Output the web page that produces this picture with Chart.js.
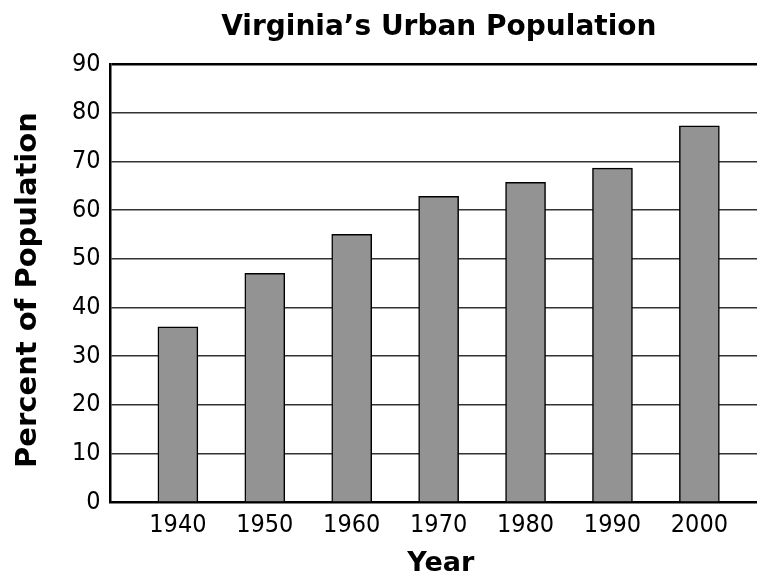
<!DOCTYPE html>
<html>
<head>
<meta charset="utf-8">
<script src="https://cdn.jsdelivr.net/npm/chart.js@4/dist/chart.umd.min.js"></script>
<style>
  html, body { margin: 0; padding: 0; background: #fff; overflow: hidden; }
  #wrap { width: 757px; height: 582px; overflow: hidden; position: relative; }
  #box { width: 771px; height: 582px; position: absolute; left: 0; top: 0; }
</style>
</head>
<body>
<div id="wrap"><div id="box"><canvas id="c"></canvas></div></div>
<script>
const chartTitle = "Virginia’s Urban Population";
const xAxisTitle = "Year";
const yAxisTitle = "Percent of Population";
const years = [1940, 1950, 1960, 1970, 1980, 1990, 2000];
const urbanPercent = [36, 47, 55, 62.8, 65.7, 68.6, 77.3];
const yTicks = [0, 10, 20, 30, 40, 50, 60, 70, 80, 90];

const titlePlugin = {
  id: 'customTitles',
  afterDraw(chart) {
    const ctx = chart.ctx;
    const a = chart.chartArea;
    ctx.save();
    ctx.fillStyle = '#000';
    ctx.textAlign = 'center';
    ctx.textBaseline = 'alphabetic';
    ctx.font = 'bold 28px "DejaVu Sans"';
    ctx.fillText(chartTitle, (a.left + a.right) / 2 - 2, 35);
    ctx.font = 'bold 29px "DejaVu Sans"';
    ctx.translate(36, (a.top + a.bottom) / 2 + 7);
    ctx.rotate(-Math.PI / 2);
    ctx.fillText(yAxisTitle, 0, 0);
    ctx.restore();
  }
};

new Chart(document.getElementById('c'), {
  type: 'bar',
  data: {
    datasets: [{
      data: years.map((y, i) => ({ x: y, y: urbanPercent[i] })),
      backgroundColor: '#939393',
      borderColor: '#000',
      borderWidth: 1.5,
      borderSkipped: 'bottom',
      barThickness: 40
    }]
  },
  options: {
    responsive: true,
    maintainAspectRatio: false,
    animation: false,
    layout: { padding: { top: 64, right: 0, bottom: 1.5, left: 62 } },
    plugins: { legend: { display: false }, tooltip: { enabled: false }, title: { display: false } },
    scales: {
      x: {
        type: 'linear',
        offset: false,
        min: 1932.26,
        max: 2008.24,
        afterBuildTicks: s => { s.ticks = years.map(v => ({ value: v })); },
        ticks: {
          autoSkip: false,
          maxRotation: 0,
          padding: 8,
          color: '#000',
          font: { family: '"DejaVu Sans Condensed"', size: 25 },
          callback: v => String(v)
        },
        grid: { display: false, drawTicks: false },
        border: { display: true, color: '#000', width: 2.5 },
        title: {
          display: true, text: xAxisTitle, color: '#000',
          font: { family: '"DejaVu Sans"', size: 27, weight: 'bold' },
          padding: { top: 0, bottom: 0 }
        }
      },
      y: {
        min: 0,
        max: 90,
        afterBuildTicks: s => { s.ticks = yTicks.map(v => ({ value: v })); },
        ticks: {
          padding: 10,
          color: '#000',
          font: { family: '"DejaVu Sans Condensed"', size: 25 },
          callback: v => String(v)
        },
        grid: {
          drawTicks: false,
          color: ctx => ctx.tick && ctx.tick.value === 90 ? '#000' : '#333333',
          lineWidth: ctx => ctx.tick && ctx.tick.value === 90 ? 2.5 : 1.5
        },
        border: { display: true, color: '#000', width: 2.5 },
        title: { display: false }
      }
    }
  },
  plugins: [titlePlugin]
});
</script>
</body>
</html>
